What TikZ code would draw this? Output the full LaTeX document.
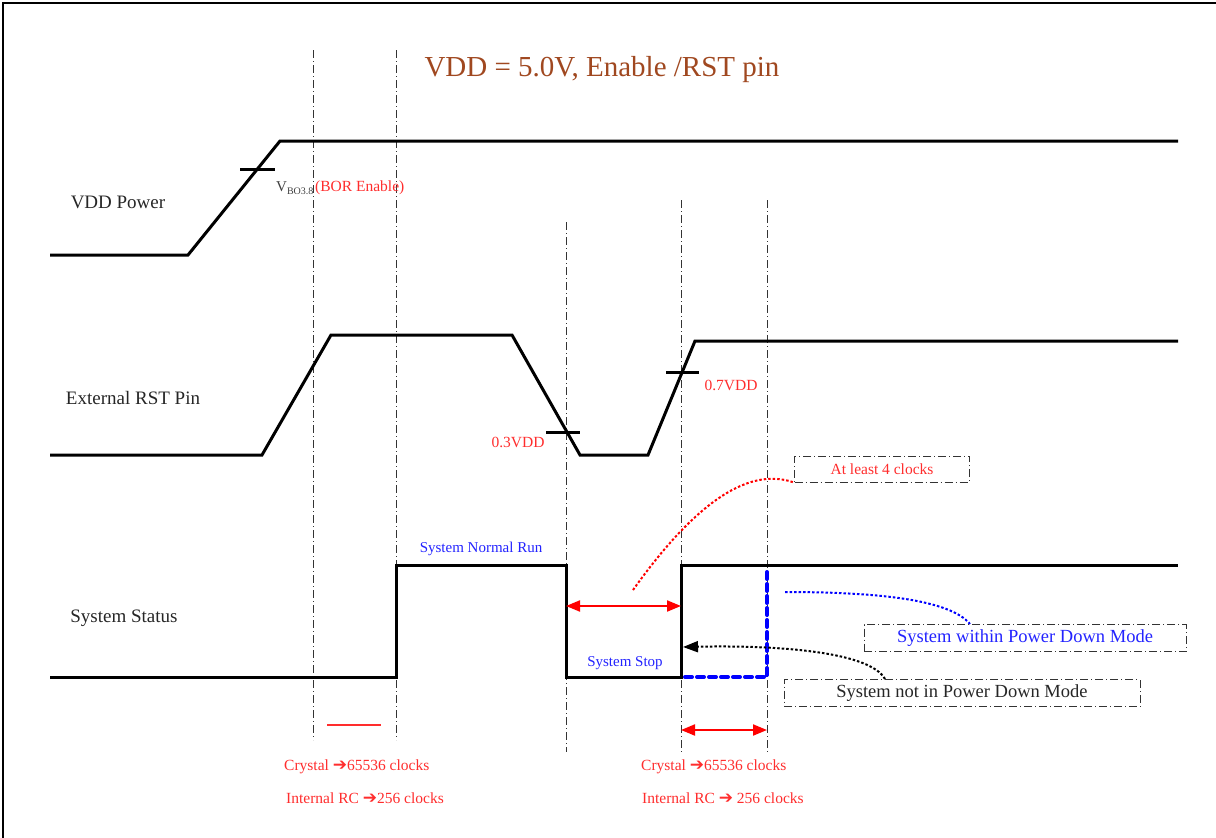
\documentclass[tikz,border=0pt]{standalone}
\usepackage{fontspec}
\setmainfont{Liberation Serif}
\newfontfamily\arrowfont{DejaVu Sans}
\usetikzlibrary{arrows.meta}
\definecolor{ttlbrown}{RGB}{160,72,32}
\definecolor{lblred}{RGB}{255,45,45}
\definecolor{lblblue}{RGB}{35,35,255}
\tikzset{
  sig/.style   = {line width=3pt, line join=miter},
  guide/.style = {line width=1pt, black!80, dash pattern=on 8pt off 3pt on 1pt off 3pt},
  note/.style  = {draw=black!80, line width=1pt, dash pattern=on 8pt off 3pt on 1pt off 3pt,
                  minimum height=27pt, inner sep=0pt},
  tickmark/.style = {line width=3pt},
  lbl/.style   = {font=\fontsize{19}{22}\selectfont, text=black!85},
  rlbl/.style  = {font=\fontsize{15.5}{18}\selectfont, text=lblred},
  blbl/.style  = {font=\fontsize{15}{18}\selectfont, text=lblblue},
  spanarr/.style = {arrows={Triangle[length=14pt, width=11pt]-Triangle[length=14pt, width=11pt]},
                    line width=2pt, red},
  pdm/.style   = {line width=4pt, blue, dash pattern=on 7pt off 5pt, line cap=round},
}
\newcommand{\rarr}{{\arrowfont\fontsize{17}{18}\selectfont\char"2794}}

\begin{document}
\begin{tikzpicture}[x=1pt, y=-1pt]
\useasboundingbox (0,0) rectangle (1216,838);

%% ── Frame (top and left edges only) ─────────────────────────────────────────
\draw[line width=2pt] (3,838) -- (3,3) -- (1216,3);

%% ── Title ───────────────────────────────────────────────────────────────────
\node[font=\fontsize{29}{32}\selectfont, text=ttlbrown] (title) at (602,70)
    {VDD = 5.0V, Enable /RST pin};

%% ── Vertical timing guides ──────────────────────────────────────────────────
\foreach \gx/\gt/\gb in {313/50/740, 396/50/740, 566/222/752, 681/200/752, 767/200/752}
  \draw[guide] (\gx,\gt) -- (\gx,\gb);

%% ── Row labels ──────────────────────────────────────────────────────────────
\node[lbl] (vddlbl) at (118,202) {VDD Power};
\node[lbl] (rstlbl) at (133,398) {External RST Pin};
\node[lbl] (statlbl) at (124,618) {System Status};

%% ── VDD Power waveform ──────────────────────────────────────────────────────
\draw[sig] (50,255) -- (188,255) -- (280,141) -- (1178,141);
\draw[tickmark] (240,169) -- (275,169);
\node[anchor=base west, inner sep=0pt, font=\fontsize{15}{18}\selectfont, text=black!75] (vbo) at (276,191)
    {V\raisebox{-0.45ex}{\fontsize{10}{12}\selectfont BO3.8}};
\node[rlbl, anchor=base west, inner sep=0pt] (bor) at (315,191) {(BOR Enable)};

%% ── External RST pin waveform ───────────────────────────────────────────────
\draw[sig] (50,455) -- (262,455) -- (331,335) -- (512,335) -- (580,455)
    -- (648,455) -- (695,341) -- (1178,341);
\draw[tickmark] (546,432) -- (580,432);
\draw[tickmark] (666,372) -- (699,372);
\node[rlbl] (lowth) at (518,442) {0.3VDD};
\node[rlbl] (highth) at (731,385) {0.7VDD};

%% ── System status waveform ──────────────────────────────────────────────────
\draw[sig] (50,677) -- (396,677) -- (396,565) -- (566,565) -- (566,677)
    -- (681,677) -- (681,565) -- (1178,565);
\draw[pdm] (685,677) -- (767,677) -- (767,568);
\node[blbl] (runlbl) at (481,549) {System Normal Run};
\node[blbl] (stoplbl) at (625,663) {System Stop};

%% ── Notes ───────────────────────────────────────────────────────────────────
\node[note, rlbl, minimum width=175pt, minimum height=26pt] (least) at (882,469) {At least 4 clocks};
\node[note, minimum width=322pt, font=\fontsize{18.5}{22}\selectfont, text=lblblue] (within) at (1025,638)
    {System within Power Down Mode};
\node[note, minimum width=356pt, font=\fontsize{18.5}{22}\selectfont, text=black!85] (notin) at (962,693)
    {System not in Power Down Mode};

%% ── Span arrows and note leaders ────────────────────────────────────────────
\coordinate (stopL) at (566,606);
\coordinate (stopR) at (681,606);
\draw[spanarr] (stopL) -- (stopR);
\coordinate (spanmark) at (633,590);
\draw[red, line width=2pt, dash pattern=on 2.5pt off 2pt] (spanmark)
    .. controls (690,510) and (745,465) .. (least.south west);
\coordinate (pdmmark) at (785,592);
\draw[blue, line width=2pt, dash pattern=on 2.5pt off 2pt] (pdmmark)
    .. controls (880,592) and (950,600) .. ([xshift=-55pt]within.north);
\coordinate (edgehit) at (683,647);
\draw[line width=2pt, dash pattern=on 2.5pt off 2pt,
      -{Triangle[length=15pt, width=11pt]}]
    ([xshift=-77pt]notin.north) .. controls (870,652) and (780,645) .. (edgehit);

%% ── Bottom reset counts ─────────────────────────────────────────────────────
\draw[lblred, line width=1.5pt] (327,725) -- (381,725);
\coordinate (wakeL) at (681,730);
\coordinate (wakeR) at (767,730);
\draw[spanarr] (wakeL) -- (wakeR);
\node[rlbl, anchor=west, inner sep=0pt] (xtalA) at (284,767) {Crystal \rarr65536 clocks};
\node[rlbl, anchor=west, inner sep=0pt] (rcA) at (286,798) {Internal RC \rarr256 clocks};
\node[rlbl, anchor=west, inner sep=0pt] (xtalB) at (641,767) {Crystal \rarr65536 clocks};
\node[rlbl, anchor=west, inner sep=0pt] (rcB) at (642,798) {Internal RC \rarr\ 256 clocks};

\end{tikzpicture}
\end{document}
